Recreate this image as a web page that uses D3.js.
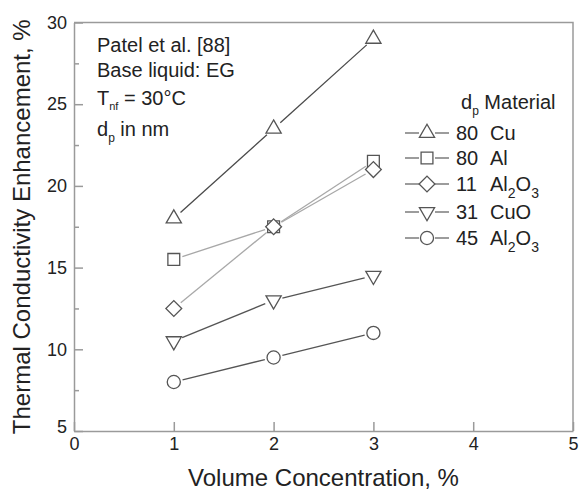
<!DOCTYPE html>
<html>
<head>
<meta charset="utf-8">
<script src="https://cdn.jsdelivr.net/npm/d3@7"></script>
<style>
  body { margin: 0; background: #fff; }
  svg text { font-family: Arial, "Liberation Sans", sans-serif; fill: #222; }
  .axis path, .axis line { stroke: #9a9a9a; stroke-width: 1.5; }
</style>
</head>
<body>
<svg id="chart" width="585" height="490"></svg>
<script>
// data (Patel et al. [88], EG base liquid)
const volumeConc = [1, 2, 3];
const seriesDp = ['80', '80', '11', '31', '45'];
const seriesMaterial = ['Cu', 'Al', 'Al2O3', 'CuO', 'Al2O3'];
const seriesSymbol = ['triangle', 'square', 'diamond', 'triangleDown', 'circle'];
const seriesLineColor = ['#4a4a4a', '#a8a8a8', '#a8a8a8', '#555', '#555'];
const cuValues = [18, 23.5, 29];
const alValues = [15.5, 17.5, 21.5];
const al2o3SmallValues = [12.5, 17.5, 21];
const cuoValues = [10.5, 13, 14.5];
const al2o3LargeValues = [8, 9.5, 11];
const seriesValues = [cuValues, alValues, al2o3SmallValues, cuoValues, al2o3LargeValues];
const xTickValues = [0, 1, 2, 3, 4, 5];
const yTickValues = [5, 10, 15, 20, 25, 30];
const yMinorTickValues = [7.5, 12.5, 17.5, 22.5, 27.5];

const svg = d3.select('#chart');

// plot frame
const x0 = 74, x1 = 573, yTop = 22.5, yBottom = 431;
const xScale = d3.scaleLinear().domain([0, 5]).range([x0, x1]);
const yScale = d3.scaleLinear().domain([5, 30]).range([yBottom, yTop]);

// axes with inward ticks
svg.append('g')
    .attr('class', 'axis')
    .attr('transform', `translate(0, ${yBottom})`)
    .call(d3.axisBottom(xScale).tickValues(xTickValues).tickFormat(d3.format('d'))
        .tickSizeInner(-9).tickSizeOuter(0).tickPadding(6))
    .call(g => g.selectAll('text').attr('font-size', 18));
svg.append('g')
    .attr('class', 'axis')
    .attr('transform', `translate(${x0}, 0)`)
    .call(d3.axisLeft(yScale).tickValues(yTickValues).tickSizeInner(-9).tickSizeOuter(0).tickPadding(7))
    .call(g => g.selectAll('text').attr('font-size', 18))
    .call(g => g.selectAll('.tick').filter(d => d === 5).select('text').attr('dy', '0.1em'));
svg.append('g')
    .attr('class', 'axis')
    .attr('transform', `translate(${x0}, 0)`)
    .call(d3.axisLeft(yScale).tickValues(yMinorTickValues).tickSizeInner(-5).tickSizeOuter(0).tickFormat(''))
    .call(g => g.select('.domain').remove());
// top and right border
svg.append('path')
    .attr('d', `M${x0},${yTop}H${x1}V${yBottom}`)
    .attr('fill', 'none')
    .attr('stroke', '#9a9a9a')
    .attr('stroke-width', 1.5);

// axis titles
svg.append('text')
    .attr('x', (x0 + x1) / 2)
    .attr('y', 486)
    .attr('text-anchor', 'middle')
    .attr('font-size', 24)
    .text('Volume Concentration, %');
svg.append('text')
    .attr('transform', `translate(30, ${(yTop + yBottom) / 2}) rotate(-90)`)
    .attr('text-anchor', 'middle')
    .attr('font-size', 24)
    .text('Thermal Conductivity Enhancement, %');

// marker shapes
const symbolFor = {
    triangle: { type: d3.symbolTriangle, size: 100, rotate: 0 },
    square: { type: d3.symbolSquare, size: 140, rotate: 0 },
    diamond: { type: d3.symbolSquare, size: 125, rotate: 45 },
    triangleDown: { type: d3.symbolTriangle, size: 100, rotate: 180 },
    circle: { type: d3.symbolCircle, size: 135, rotate: 0 }
};
function drawMarker(g, kind, cx, cy) {
    const s = symbolFor[kind];
    g.append('path')
        .attr('d', d3.symbol().type(s.type).size(s.size)())
        .attr('transform', `translate(${cx}, ${cy}) rotate(${s.rotate})`)
        .attr('fill', '#fff')
        .attr('stroke', '#555')
        .attr('stroke-width', 1.3);
}

// series: lines stop short of the markers
const gap = 9;
seriesValues.forEach((vals, i) => {
    const g = svg.append('g');
    const pts = vals.map((v, j) => [xScale(volumeConc[j]), yScale(v)]);
    for (let j = 0; j < pts.length - 1; j++) {
        const [ax, ay] = pts[j], [bx, by] = pts[j + 1];
        const len = Math.hypot(bx - ax, by - ay);
        const ux = (bx - ax) / len, uy = (by - ay) / len;
        g.append('line')
            .attr('x1', ax + ux * gap).attr('y1', ay + uy * gap)
            .attr('x2', bx - ux * gap).attr('y2', by - uy * gap)
            .attr('stroke', seriesLineColor[i])
            .attr('stroke-width', 1.3);
    }
    pts.forEach(p => drawMarker(g, seriesSymbol[i], p[0], p[1]));
});

// text with subscripts: digits (or a given part) go down, the rest stays on baseline
function subText(t, parts, subSize, drop) {
    let low = false;
    parts.forEach(([str, isSub]) => {
        const span = t.append('tspan').text(str);
        if (isSub && !low) { span.attr('dy', drop); low = true; }
        else if (!isSub && low) { span.attr('dy', -drop); low = false; }
        if (isSub) span.attr('font-size', subSize);
    });
}

// annotation block, top left
const note = svg.append('g').attr('font-size', 20);
note.append('text').attr('x', 97).attr('y', 52).text('Patel et al. [88]');
note.append('text').attr('x', 97).attr('y', 77).text('Base liquid: EG');
subText(note.append('text').attr('x', 97).attr('y', 105), [['T', false], ['nf', true], [' = 30°C', false]], 11, 5);
subText(note.append('text').attr('x', 97).attr('y', 136), [['d', false], ['p', true], [' in nm', false]], 12, 6);

// legend
const legend = svg.append('g').attr('font-size', 20);
subText(legend.append('text').attr('x', 461).attr('y', 109), [['d', false], ['p', true], [' Material', false]], 12, 6);
const legendRows = [133, 158, 184, 212, 238];
seriesDp.forEach((dp, i) => {
    const y = legendRows[i];
    legend.append('line').attr('x1', 405).attr('x2', 419).attr('y1', y).attr('y2', y)
        .attr('stroke', '#666').attr('stroke-width', 1.3);
    legend.append('line').attr('x1', 435).attr('x2', 449).attr('y1', y).attr('y2', y)
        .attr('stroke', '#666').attr('stroke-width', 1.3);
    drawMarker(legend, seriesSymbol[i], 427, y);
    legend.append('text').attr('x', 456).attr('y', y + 7).text(dp);
    const parts = seriesMaterial[i].match(/[A-Za-z]+|\d+/g).map(p => [p, /^\d+$/.test(p)]);
    subText(legend.append('text').attr('x', 490).attr('y', y + 7), parts, 14, 7);
});
</script>
</body>
</html>
